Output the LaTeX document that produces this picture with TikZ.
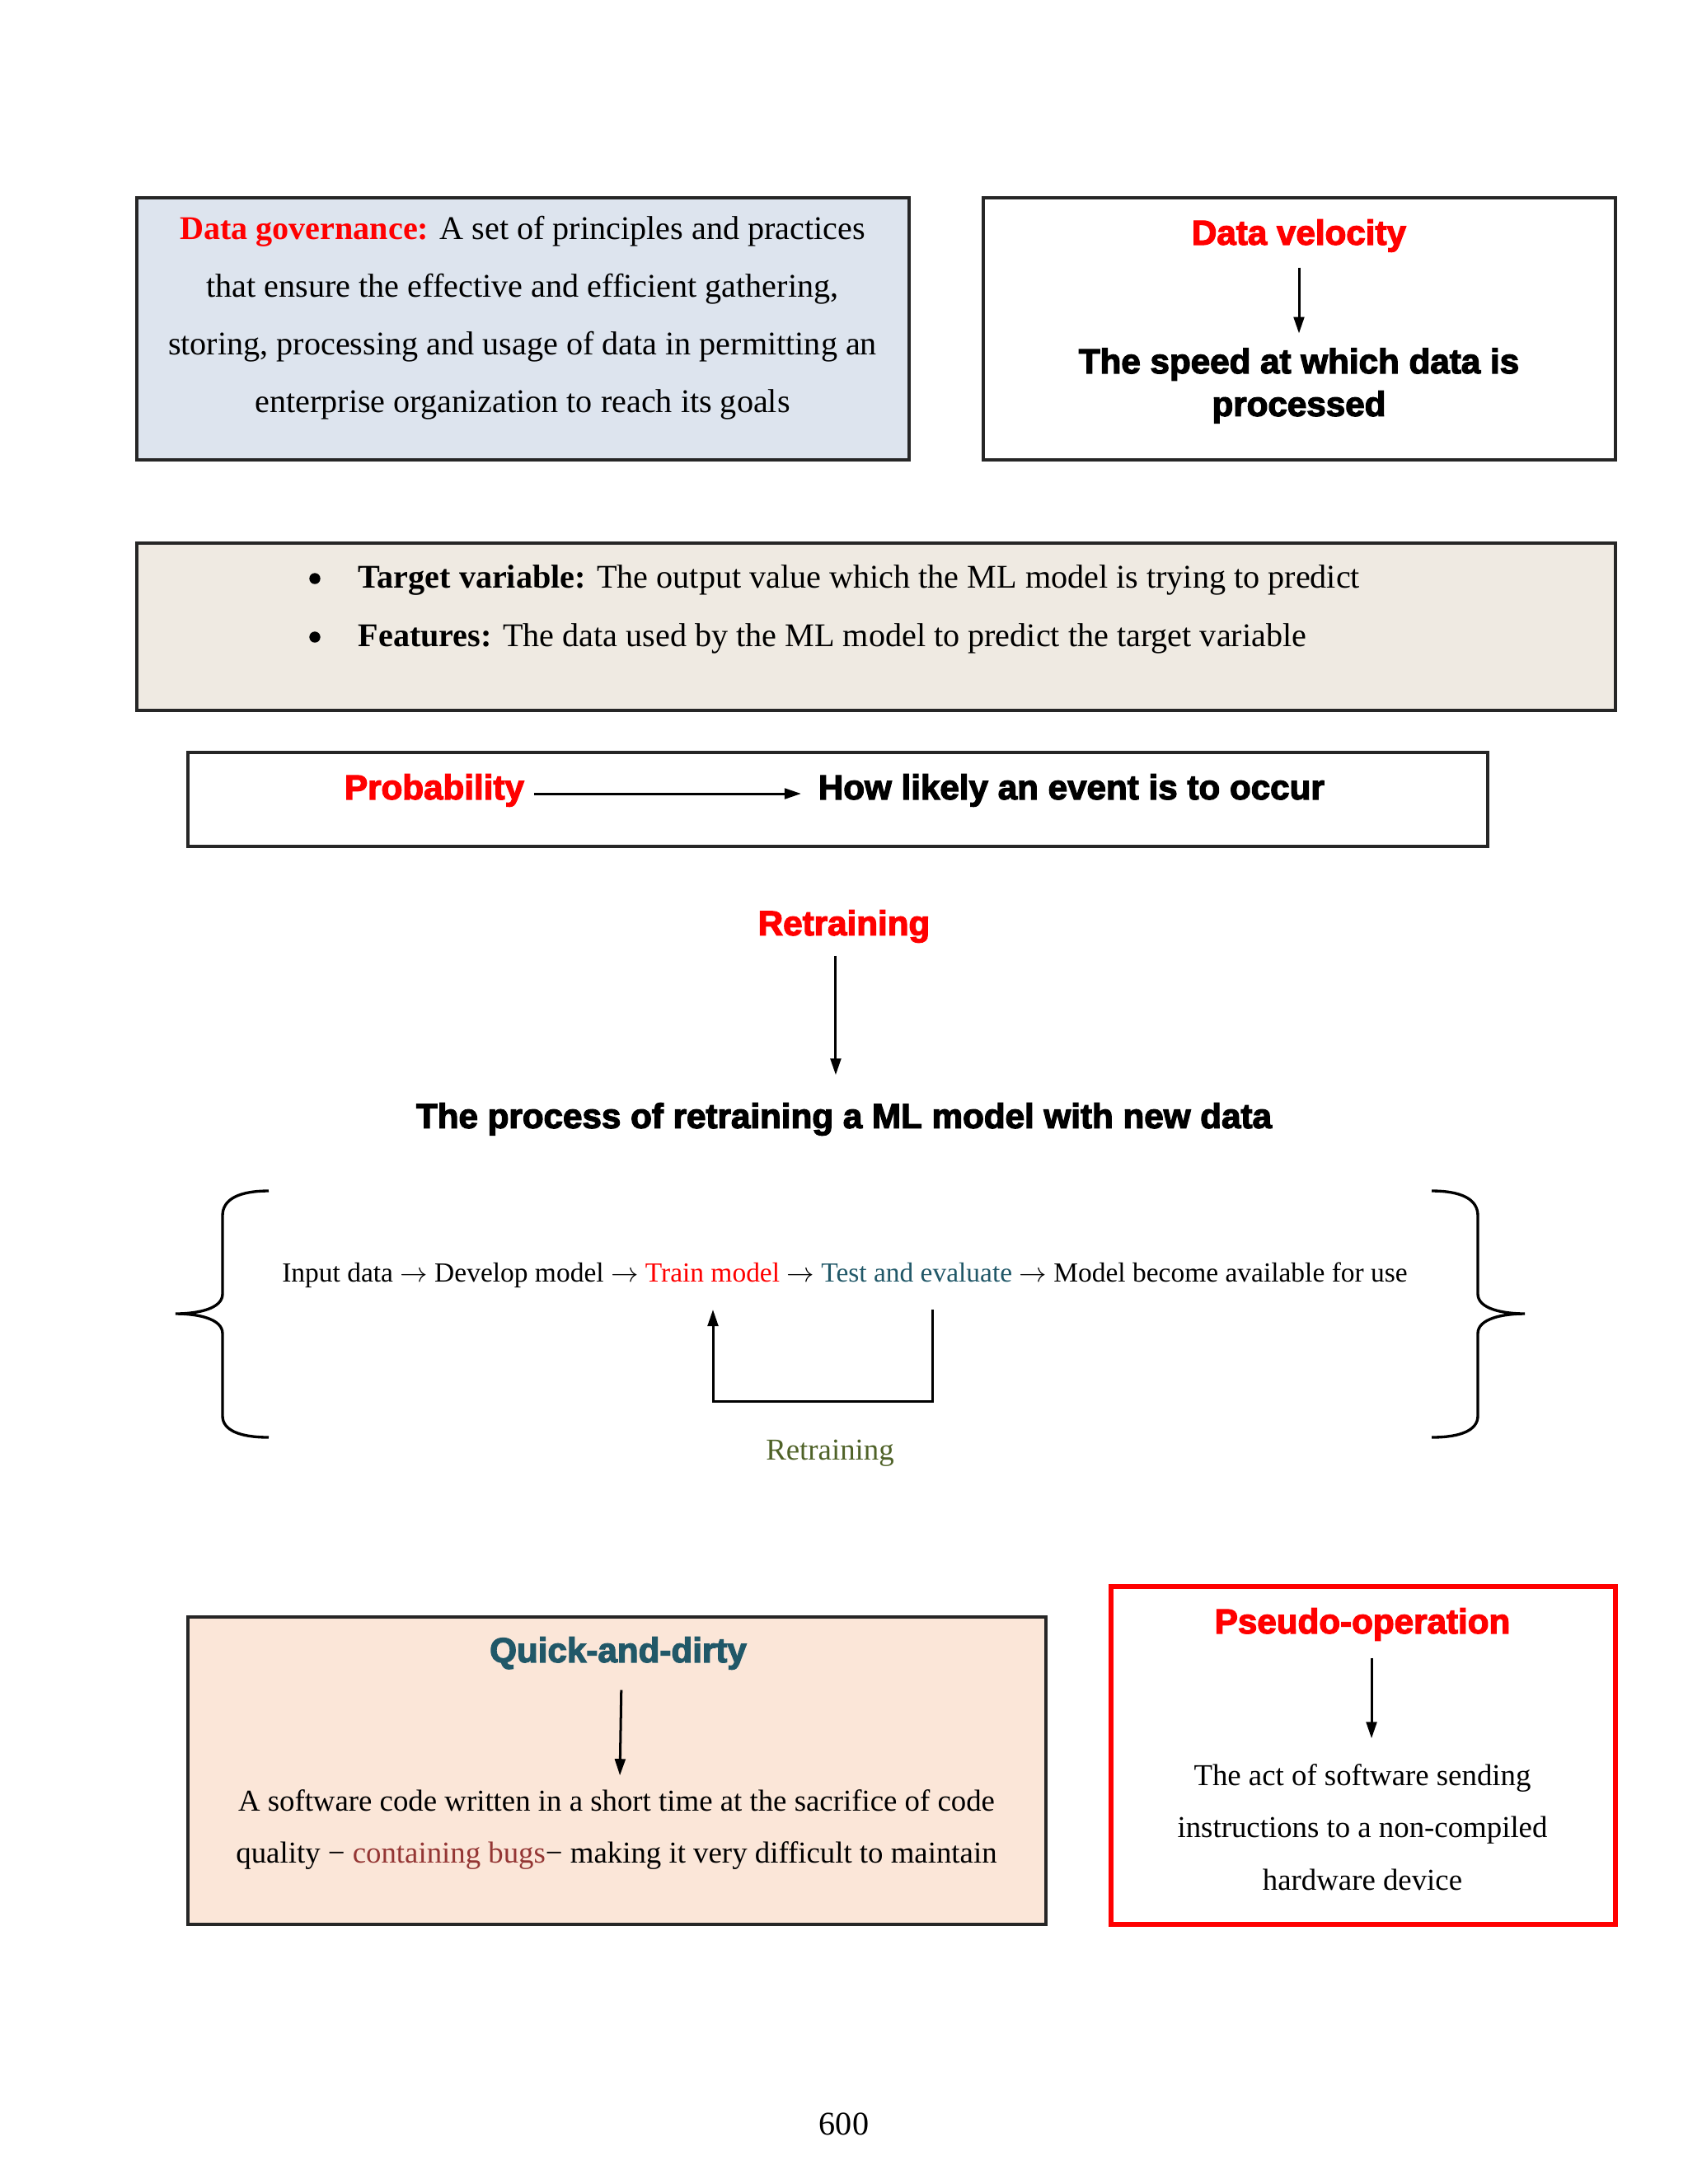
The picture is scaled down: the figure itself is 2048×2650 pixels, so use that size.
\documentclass[tikz,border=0pt]{standalone}
\usepackage{fontspec}
\setmainfont{Liberation Serif}
\newfontfamily\heavyfont{Liberation Sans}[BoldFeatures={FakeBold=3}]
\usetikzlibrary{arrows.meta, positioning, fit}
\definecolor{govblue}{HTML}{DDE4EE}
\definecolor{featbeige}{HTML}{EFEAE2}
\definecolor{quickpeach}{HTML}{FBE6D8}
\definecolor{evalteal}{HTML}{215868}
\definecolor{bugred}{HTML}{943634}
\definecolor{retrainolive}{HTML}{4F6228}

\begin{document}
\begin{tikzpicture}[
    x=0.2988pt, y=-0.2988pt,
    font=\fontsize{12}{14.4}\selectfont,
    >={Triangle[length=6pt, width=3.8pt]},
    panel/.style = {rectangle, draw=black!85, line width=1pt, inner sep=0pt},
    heading/.style = {font=\heavyfont\bfseries\fontsize{12.6}{15}\selectfont, text=red},
    bodytext/.style = {font=\heavyfont\bfseries\fontsize{12.6}{15.5}\selectfont, align=center},
    plain/.style = {align=center, font=\fontsize{11}{19}\selectfont},
    item/.style = {anchor=west, inner sep=0pt, font=\fontsize{12}{14.4}\selectfont},
    dot/.style = {circle, fill=black, inner sep=0pt, minimum size=4pt},
    connection/.style = {draw, ->, line width=0.9pt, black}
]
    \useasboundingbox (0,0) rectangle (2048,2650);

    % data governance
    \node [panel, fill=govblue, fit={(166,240) (1103,558)}] (govbox) {};
    \node [align=center, font=\fontsize{12}{20.9}\selectfont] (govtext) at (634,386)
        {{\color{red}\bfseries Data governance:} A set of principles and practices\\
         that ensure the effective and efficient gathering,\\
         storing, processing and usage of data in permitting an\\
         enterprise organization to reach its goals};

    % data velocity
    \node [panel, fill=white, fit={(1193,240) (1960,558)}] (velbox) {};
    \node [heading] (veltitle) at (1576,286) {Data velocity};
    \node [bodytext] (veldef) at (1576,468) {The speed at which data is\\processed};
    \draw [connection, shorten <=2.1pt, shorten >=1.8pt] (veltitle) -- (veldef);

    % target and features
    \node [panel, fill=featbeige, fit={(166,659) (1960,862)}] (featbox) {};
    \node [dot] (bulA) at (382,702) {};
    \node [item] (target) at (434,704) {\textbf{Target variable:} The output value which the ML model is trying to predict};
    \node [dot] (bulB) at (382,773) {};
    \node [item] (features) at (434,775) {\textbf{Features:} The data used by the ML model to predict the target variable};

    % probability
    \node [panel, fill=white, fit={(228,913) (1805,1027)}] (probbox) {};
    \node [heading] (prob) at (527,959) {Probability};
    \node [bodytext, anchor=west] (likely) at (981,959) {How likely an event is to occur};
    \draw [connection, shorten >=2.7pt] ([yshift=-1.2pt]prob.east) -- ([yshift=-1.2pt]likely.west);

    % retraining
    \node [heading] (retrain) at (1024,1124) {Retraining};
    \node [bodytext] (retraindef) at (1024,1358) {The process of retraining a ML model with new data};
    \draw [connection, shorten <=1.2pt, shorten >=6.6pt] ([xshift=-3pt]retrain.south) -- ([xshift=-3pt]retraindef.north);

    \node [font=\fontsize{10}{12}\selectfont] (flow) at (1025,1547)
        {Input data $\rightarrow$ Develop model $\rightarrow$ \textcolor{red}{Train model} $\rightarrow$ \textcolor{evalteal}{Test and evaluate} $\rightarrow$ Model become available for use};
    \coordinate (loopout) at (1131,1589);
    \coordinate (loopin) at (865,1589);
    \draw [connection] (loopout) -- ++(0,111) -| (loopin);
    \node [plain, text=retrainolive] (looplabel) at (1007,1763) {Retraining};

    \draw [line width=1pt] (326,1445) .. controls (290,1445) and (270,1455) .. (270,1475) -- (270,1570)
        .. controls (270,1588) and (240,1594) .. (213,1594)
        .. controls (240,1594) and (270,1600) .. (270,1618) -- (270,1718)
        .. controls (270,1735) and (290,1744) .. (326,1744);
    \draw [line width=1pt] (1737,1445) .. controls (1773,1445) and (1793,1455) .. (1793,1475) -- (1793,1570)
        .. controls (1793,1588) and (1823,1594) .. (1850,1594)
        .. controls (1823,1594) and (1793,1600) .. (1793,1618) -- (1793,1718)
        .. controls (1793,1735) and (1773,1744) .. (1737,1744);

    % quick-and-dirty
    \node [panel, fill=quickpeach, fit={(228,1962) (1269,2335)}] (quickbox) {};
    \node [heading, text=evalteal] (quick) at (750,2006) {Quick-and-dirty};
    \node [plain, font=\fontsize{11}{19.1}\selectfont] (quickdef) at (748,2220)
        {A software code written in a short time at the sacrifice of code\\
         quality − \textcolor{bugred}{containing bugs}− making it very difficult to maintain};
    \draw [connection, shorten <=3.9pt, shorten >=1.5pt] ([xshift=1.2pt]quick.south) -- ([xshift=1.2pt]quickdef.north);

    % pseudo-operation
    \node [panel, draw=red, line width=1.8pt, fill=white, fit={(1348,1925) (1960,2335)}] (pseudobox) {};
    \node [heading] (pseudo) at (1653,1971) {Pseudo-operation};
    \node [plain] (pseudodef) at (1653,2217)
        {The act of software sending\\instructions to a non-compiled\\hardware device};
    \draw [connection, shorten <=2.7pt, shorten >=5.7pt] ([xshift=3.3pt]pseudo.south) -- ([xshift=3.3pt]pseudodef.north);

    \node (pagenum) at (1024,2577) {600};
\end{tikzpicture}
\end{document}
